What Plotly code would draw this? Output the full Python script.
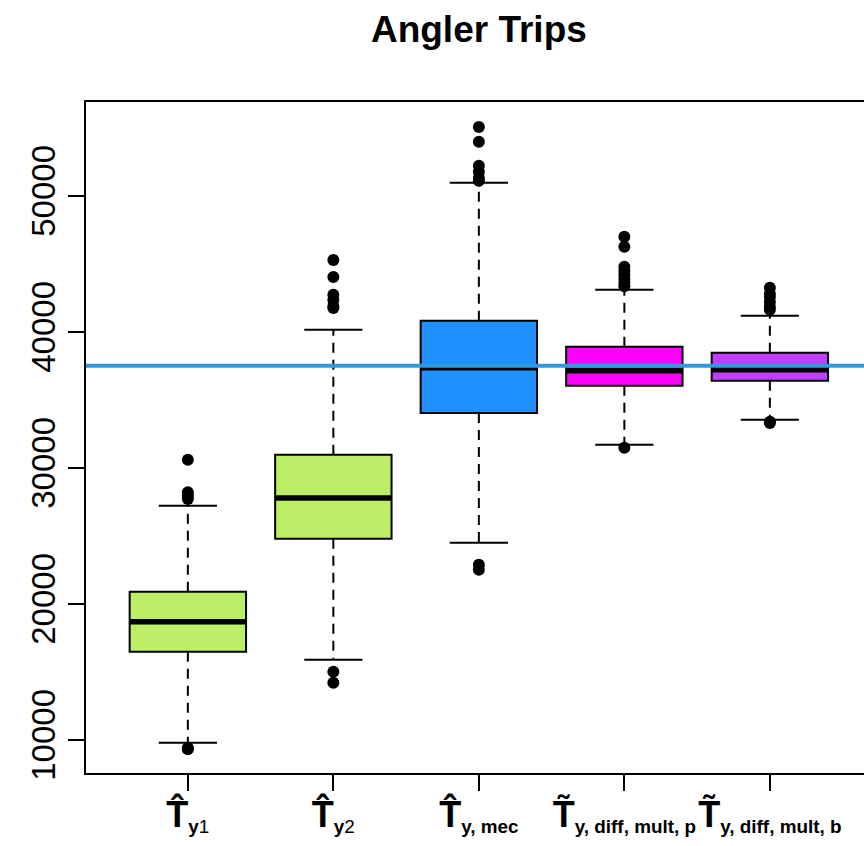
import plotly.graph_objects as go

# Estimator labels (bold T with hat / tilde and a subscript)
T_HAT = "<span style='font-size:36px'><b>T\u0302</b></span>"
T_TILDE = "<span style='font-size:36px'><b>T\u0303</b></span>"
labels = [
    T_HAT + "<sub><b>y</b>1</sub>",
    T_HAT + "<sub><b>y</b>2</sub>",
    T_HAT + "<sub><b>y, mec</b></sub>",
    T_TILDE + "<sub><b>y, diff, mult, p</b></sub>",
    T_TILDE + "<sub><b>y, diff, mult, b</b></sub>",
]

# Box statistics for each estimator (angler trips)
q1 = [16470, 24780, 34040, 36030, 36400]
median = [18680, 27790, 37350, 37130, 37210]
q3 = [20880, 30960, 40810, 38900, 38460]
whisker_low = [9780, 15880, 24490, 31690, 33530]
whisker_high = [27210, 40150, 50960, 43090, 41180]

# Points beyond the whiskers
outliers = [
    [30590, 28200, 27950, 27700, 9420, 9300],
    [45290, 44040, 42720, 42350, 41900, 41760, 15000, 14190],
    [55070, 53970, 52210, 51770, 51320, 51100, 22870, 22500],
    [46990, 46250, 44780, 44500, 44200, 43900, 43600, 43350, 31470],
    [43240, 42800, 42570, 42200, 41840, 41620, 33380, 33300],
]

fill_colors = ["#BCEE68", "#BCEE68", "#1E90FF", "#FF00FF", "#BF3EFF"]

# True total shown as a reference line
true_value = 37500

y_ticks = [10000, 20000, 30000, 40000, 50000]

FONT = "Liberation Sans, Arial, sans-serif"
BOX_WIDTH = 0.8
CAP_HALF = 0.2

positions = list(range(1, len(labels) + 1))

fig = go.Figure()

for i, pos in enumerate(positions):
    # Box body
    fig.add_trace(go.Box(
        x=[pos], q1=[q1[i]], median=[median[i]], q3=[q3[i]],
        lowerfence=[q1[i]], upperfence=[q3[i]],
        width=BOX_WIDTH, whiskerwidth=0,
        fillcolor=fill_colors[i],
        line=dict(color="black", width=2),
        boxpoints=False, showlegend=False, hoverinfo="skip",
    ))
    # Dashed whiskers
    for a, b in ((q1[i], whisker_low[i]), (q3[i], whisker_high[i])):
        fig.add_trace(go.Scatter(
            x=[pos, pos], y=[a, b], mode="lines",
            line=dict(color="black", width=2, dash="10px,7px"),
            showlegend=False, hoverinfo="skip",
        ))
    # Whisker caps
    for w in (whisker_low[i], whisker_high[i]):
        fig.add_trace(go.Scatter(
            x=[pos - CAP_HALF, pos + CAP_HALF], y=[w, w], mode="lines",
            line=dict(color="black", width=2),
            showlegend=False, hoverinfo="skip",
        ))
    # Thick median bar
    fig.add_trace(go.Scatter(
        x=[pos - BOX_WIDTH / 2, pos + BOX_WIDTH / 2], y=[median[i], median[i]],
        mode="lines", line=dict(color="black", width=5.5),
        showlegend=False, hoverinfo="skip",
    ))
    # Outlying points
    fig.add_trace(go.Scatter(
        x=[pos] * len(outliers[i]), y=outliers[i], mode="markers",
        marker=dict(color="black", size=12),
        showlegend=False, hoverinfo="skip",
    ))

fig.add_shape(
    type="line", xref="paper", x0=0, x1=1, yref="y",
    y0=true_value, y1=true_value,
    line=dict(color="#2E9BE0", width=4), layer="above",
)

fig.update_layout(
    width=864, height=846,
    margin=dict(l=86, r=0, t=102, b=73, pad=0),
    paper_bgcolor="white", plot_bgcolor="white",
    title=dict(
        text="<b>Angler Trips</b>",
        x=0.505, xref="paper", xanchor="center",
        y=1 - 29 / 846, yref="container", yanchor="middle",
        font=dict(family=FONT, size=37, color="black"),
    ),
    xaxis=dict(
        range=[0.3, 5.647], tickvals=positions, ticktext=labels,
        showline=True, mirror=True, linecolor="black", linewidth=2,
        ticks="outside", ticklen=16, tickwidth=2, tickcolor="black",
        showgrid=False, zeroline=False, ticklabelstandoff=4,
        tickfont=dict(family=FONT, size=27, color="black"),
    ),
    yaxis=dict(
        range=[7560, 56900], tickvals=y_ticks,
        ticktext=[str(v) for v in y_ticks], tickangle=-90,
        showline=True, mirror=False, linecolor="black", linewidth=2,
        ticks="outside", ticklen=16, tickwidth=2, tickcolor="black",
        showgrid=False, zeroline=False,
        tickfont=dict(family=FONT, size=33, color="black"),
    ),
)

fig.write_html("out.html")
